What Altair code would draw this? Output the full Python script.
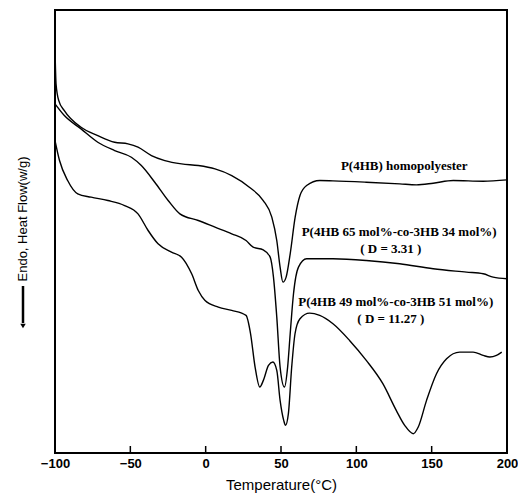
import altair as alt
import pandas as pd

# P(4HB) homopolyester
homo_T = [-100, -99.3, -97.5, -93.8, -82.7, -71.6, -60.4, -51.6, -44.9, -36.0, -27.1, -16.0, -4.9, 6.2,
          17.3, 29.0, 38.2, 43.9, 47.2, 49.4, 51.3, 53.4, 56.1, 59.4, 62.6, 67.0, 75.8, 84.5, 106.6,
          128.8, 139.9, 151.0, 164.3, 184.2, 200]
homo_V = [121.3, 110.8, 105.8, 102.8, 97.8, 95.3, 93.3, 92.8, 91.8, 89.3, 87.8, 86.8, 86.3, 85.3,
          83.3, 79.8, 75.8, 70.8, 63.8, 55.8, 51.3, 52.8, 59.8, 70.8, 77.3, 80.3, 81.8, 81.7, 81.3,
          80.8, 80.5, 81.0, 81.8, 81.6, 82.0]

# P(4HB 65 mol%-co-3HB 34 mol%)
co34_T = [-100, -93.8, -82.7, -71.6, -60.4, -49.3, -42.7, -33.8, -24.9, -17.1, -4.9, 6.2, 17.3, 26.8,
          31.5, 38.2, 42.8, 45.0, 47.2, 49.4, 52.3, 54.4, 56.1, 58.3, 61.6, 67.0, 84.5, 106.6, 128.8,
          151.0, 173.1, 184.2, 190.8, 200]
co34_V = [104.8, 101.3, 97.3, 93.3, 90.8, 88.8, 86.3, 81.3, 75.8, 71.8, 69.8, 67.8, 65.8, 63.8,
          61.8, 61.0, 58.8, 52.8, 40.8, 25.8, 19.8, 25.8, 35.8, 47.8, 55.8, 58.3, 58.3, 57.8, 56.8,
          55.3, 54.3, 53.8, 52.8, 52.3]

# P(4HB 49 mol%-co-3HB 51 mol%)
co51_T = [-100, -97, -91.6, -84.9, -76.0, -64.9, -53.8, -44.9, -38.2, -31.6, -22.7, -16.0, -9.3, -4.9,
          -0.4, 8.4, 17.3, 26.8, 29.8, 32.8, 35.9, 38.3, 41.7, 44.6, 47.2, 49.4, 51.8, 53.0, 54.9,
          57.1, 59.3, 62.6, 69.0, 75.7, 84.5, 95.5, 106.6, 117.6, 126.5, 132.1, 137.8, 141.1, 146.6,
          153.2, 159.9, 168.6, 177.5, 184.2, 188.6, 193.0, 196.5]
co51_V = [93.8, 87.8, 81.8, 77.8, 76.8, 75.8, 74.3, 71.8, 66.8, 62.8, 60.3, 58.8, 53.8, 48.8,
          45.8, 43.8, 42.8, 41.3, 35.8, 25.8, 19.8, 21.8, 26.3, 27.3, 24.8, 15.8, 9.8, 8.3, 11.8,
          25.8, 35.8, 40.3, 42.0, 41.3, 38.8, 33.8, 27.8, 20.8, 12.8, 8.3, 5.8, 7.8, 15.8,
          23.8, 28.3, 30.3, 30.3, 29.3, 28.8, 29.3, 30.3]

label_text = ["P(4HB) homopolyester", "P(4HB 65 mol%-co-3HB 34 mol%)", "( D = 3.31 )",
              "P(4HB 49 mol%-co-3HB 51 mol%)", "( D = 11.27 )"]
label_T = [131.8, 128.4, 122.9, 126.2, 122.9]
label_V = [86.3, 66.5, 61.3, 45.3, 40.3]

tick_values = [-50, 0, 50, 100, 150]
axis_values = [-100, -50, 0, 50, 100, 150, 200]

rows = []
for name, ts, vs in [("homo", homo_T, homo_V), ("co34", co34_T, co34_V), ("co51", co51_T, co51_V)]:
    for t, v in zip(ts, vs):
        rows.append({"series": name, "T": t, "V": v})
df = pd.DataFrame(rows)

W, H = 452, 443
XTITLE = "Temperature(°C)"
xscale = alt.Scale(domain=[-100, 200], nice=False, zero=False)
yscale = alt.Scale(domain=[0, 133], nice=False, zero=False)

lines = alt.Chart(df).mark_line(color="black", strokeWidth=1.4, interpolate="monotone").encode(
    x=alt.X("T:Q", scale=xscale, title=XTITLE,
            axis=alt.Axis(values=axis_values, ticks=False, domain=False, grid=False, labelFlush=False,
                          labelFont="Liberation Sans", labelFontWeight="bold", labelFontSize=13,
                          labelColor="black", labelPadding=4, titleFont="Liberation Sans",
                          titleFontSize=15, titleFontWeight="normal", titleColor="black",
                          titlePadding=7, format="d")),
    y=alt.Y("V:Q", scale=yscale, axis=None),
    detail="series:N",
)

ticks = alt.Chart(pd.DataFrame({"T": tick_values})).mark_rule(color="black", strokeWidth=1.5).encode(
    x=alt.X("T:Q", scale=xscale, title=XTITLE),
    y=alt.value(H),
    y2=alt.value(H - 7),
)

labels = alt.Chart(pd.DataFrame({"T": label_T, "V": label_V, "txt": label_text})).mark_text(
    font="Liberation Serif", fontWeight="bold", fontSize=13, color="black", align="center",
    baseline="middle").encode(
    x=alt.X("T:Q", scale=xscale, title=XTITLE),
    y=alt.Y("V:Q", scale=yscale),
    text="txt:N",
)

ytitle = alt.Chart(pd.DataFrame({"t": ["Endo, Heat Flow(w/g)"]})).mark_text(
    angle=270, font="Liberation Sans", fontSize=13, color="black", align="center",
    baseline="middle").encode(
    x=alt.value(-32), y=alt.value(209), text="t:N")

arrow = alt.Chart(pd.DataFrame({"a": [1]})).mark_rule(color="black", strokeWidth=2.5).encode(
    x=alt.value(-32), y=alt.value(276), y2=alt.value(313))

head = alt.Chart(pd.DataFrame({"a": [1]})).mark_point(
    shape="triangle-down", filled=True, size=30, color="black", opacity=1).encode(
    x=alt.value(-32), y=alt.value(316))

chart = alt.layer(lines, ticks, labels, ytitle, arrow, head).properties(
    width=W, height=H,
    autosize=alt.AutoSizeParams(type="none"),
    padding={"left": 47, "top": 2, "right": 11, "bottom": 42},
    background="white",
).configure_view(stroke="black", strokeWidth=2)

chart.save("out.html", embed_options={"renderer": "svg", "actions": False})
